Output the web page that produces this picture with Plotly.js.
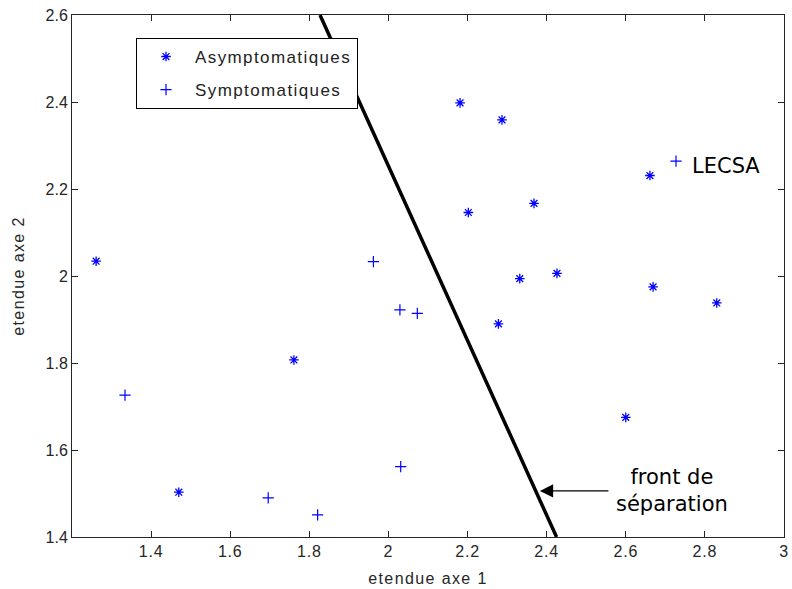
<!DOCTYPE html>
<html>
<head>
<meta charset="utf-8">
<script src="https://cdn.plot.ly/plotly-3.0.1.min.js"></script>
<style>
html,body{margin:0;padding:0;background:#fff;}
#chart{width:792px;height:589px;}
.legendtext{letter-spacing:1.4px;}
.xtitle,.ytitle{letter-spacing:1.4px;}
.xtick text{letter-spacing:0.8px;}
</style>
</head>
<body>
<div id="chart"></div>
<script>
// Asymptomatic cases (asterisks)
const asymX = [1.261, 1.761, 1.470, 2.181, 2.287, 2.202, 2.368, 2.661, 2.332, 2.426, 2.669, 2.830, 2.278, 2.600];
const asymY = [2.034, 1.807, 1.503, 2.398, 2.359, 2.146, 2.167, 2.231, 1.994, 2.006, 1.975, 1.938, 1.890, 1.675];
// Symptomatic cases (plus signs)
const symX = [2.727, 1.962, 2.029, 2.073, 1.334, 1.696, 1.821, 2.031];
const symY = [2.264, 2.033, 1.922, 1.914, 1.726, 1.490, 1.451, 1.562];
// Separation front
const frontX = [1.827, 2.425];
const frontY = [2.6, 1.4];
// Annotation anchors
const lecsaPos = [2.762, 2.253];
const arrowHead = [2.383, 1.506];
const arrowTail = [2.560, 1.506];
const labelPos = [2.570, 1.506];

const xTicks = [1.4, 1.6, 1.8, 2, 2.2, 2.4, 2.6, 2.8, 3];
const yTicks = [1.4, 1.6, 1.8, 2, 2.2, 2.4, 2.6];

const tickFont = {family: 'Liberation Sans, Arial, sans-serif', size: 16, color: '#262626'};
const annFont = {family: 'DejaVu Sans, sans-serif', size: 21, color: '#000'};

const traces = [
  {x: frontX, y: frontY, mode: 'lines', line: {color: '#000', width: 3.5}, showlegend: false, hoverinfo: 'skip'},
  {x: asymX, y: asymY, mode: 'markers', name: 'Asymptomatiques', legendgroup: 'a',
   marker: {symbol: 'asterisk-open', size: 8, color: '#0000ff', line: {color: '#0000ff', width: 1.3}}},
  {x: symX, y: symY, mode: 'markers', name: 'Symptomatiques', legendgroup: 's',
   marker: {symbol: 'cross-thin-open', size: 8, color: '#0000ff', line: {color: '#0000ff', width: 1.2}}}
];

const axisCommon = {
  showgrid: false, zeroline: false, showline: true, linecolor: '#262626', linewidth: 1,
  mirror: 'allticks', ticks: 'inside', ticklen: 6, tickcolor: '#262626', tickwidth: 1,
  tickfont: tickFont
};

const layout = {
  width: 792, height: 589,
  margin: {l: 72, r: 8, t: 15, b: 52},
  paper_bgcolor: '#fff', plot_bgcolor: '#fff',
  xaxis: Object.assign({}, axisCommon, {
    range: [1.2, 3], tickvals: xTicks, ticktext: xTicks.map(String),
    title: {text: 'etendue axe 1', font: tickFont, standoff: 13}
  }),
  yaxis: Object.assign({}, axisCommon, {
    range: [1.4, 2.6], tickvals: yTicks, ticktext: yTicks.map(String),
    title: {text: 'etendue axe 2', font: tickFont, standoff: 16}
  }),
  legend: {
    x: 0.0899, y: 0.956, xanchor: 'left', yanchor: 'top',
    bgcolor: '#fff', bordercolor: '#000', borderwidth: 1,
    font: {family: 'Liberation Sans, Arial, sans-serif', size: 17, color: '#222'},
    tracegroupgap: 8, itemwidth: 48
  },
  annotations: [
    {x: lecsaPos[0], y: lecsaPos[1], xref: 'x', yref: 'y', text: 'LECSA', showarrow: false,
     xanchor: 'left', yanchor: 'middle', font: annFont},
    {x: arrowHead[0], y: arrowHead[1], xref: 'x', yref: 'y', ax: arrowTail[0], ay: arrowTail[1],
     axref: 'x', ayref: 'y', text: '', showarrow: true, arrowhead: 2, arrowsize: 2.4, arrowwidth: 1.1,
     arrowcolor: '#000', standoff: 0, startstandoff: 0},
    {x: labelPos[0], y: labelPos[1], xref: 'x', yref: 'y', text: 'front de<br>séparation', showarrow: false,
     xanchor: 'left', yanchor: 'middle', align: 'center', font: annFont}
  ]
};

Plotly.newPlot('chart', traces, layout, {staticPlot: true, displayModeBar: false});
</script>
</body>
</html>
